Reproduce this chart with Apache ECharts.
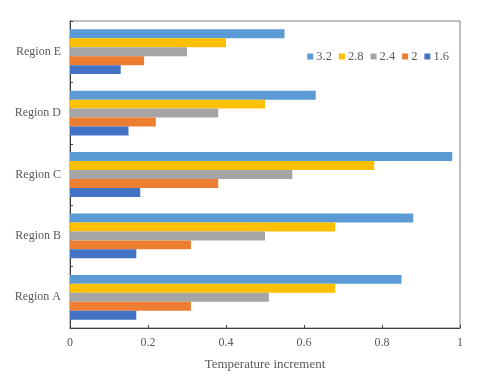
<!DOCTYPE html>
<html>
<head>
<meta charset="utf-8">
<script src="https://cdn.jsdelivr.net/npm/echarts@6/dist/echarts.min.js"></script>
<style>html,body{margin:0;padding:0;background:#fff}#c{width:480px;height:376px}</style>
</head>
<body>
<div id="c"></div>
<script>
var categories = ['Region A', 'Region B', 'Region C', 'Region D', 'Region E'];
var xTicks = [0, 0.2, 0.4, 0.6, 0.8, 1];
var s32 = [0.85, 0.88, 0.98, 0.63, 0.55];
var s28 = [0.68, 0.68, 0.78, 0.50, 0.40];
var s24 = [0.51, 0.50, 0.57, 0.38, 0.30];
var s2 = [0.31, 0.31, 0.38, 0.22, 0.19];
var s16 = [0.17, 0.17, 0.18, 0.15, 0.13];
var seriesNames = ['3.2', '2.8', '2.4', '2', '1.6'];
var seriesData = [s32, s28, s24, s2, s16];
var colors = ['#5B9BD5', '#FFC000', '#A5A5A5', '#ED7D31', '#4472C4'];

var font = 'Liberation Serif';
var chart = echarts.init(document.getElementById('c'));
var series = seriesNames.map(function (n, i) {
  return {
    name: n, type: 'bar', data: seriesData[i],
    barGap: '0%', barCategoryGap: '27%',
    itemStyle: { color: colors[i] }
  };
});
chart.setOption({
  animation: false,
  textStyle: { fontFamily: font },
  grid: { left: 70, right: 20, top: 21, bottom: 47, show: true, borderColor: '#7f7f7f', borderWidth: 1 },
  legend: {
    data: seriesNames,
    right: 26, top: 45,
    icon: 'rect', itemWidth: 6, itemHeight: 6, itemGap: 7,
    textStyle: { fontFamily: font, fontSize: 12.5, color: '#595959', padding: [0, 0, 0, -2] }
  },
  xAxis: {
    type: 'value', min: 0, max: 1, interval: 0.2,
    name: 'Temperature increment', nameLocation: 'middle', nameGap: 30,
    nameTextStyle: { fontFamily: font, fontSize: 13, color: '#595959' },
    axisLine: { show: true, lineStyle: { color: '#404040' } },
    axisTick: { show: true, inside: true, length: 3, lineStyle: { color: '#404040' } },
    axisLabel: { fontFamily: font, fontSize: 12, color: '#595959', margin: 9,
      formatter: function (v) { return String(v); } },
    splitLine: { show: false }
  },
  yAxis: {
    type: 'category', data: categories,
    axisLine: { show: true, lineStyle: { color: '#404040' } },
    axisTick: { show: true, inside: true, length: 3, lineStyle: { color: '#404040' } },
    axisLabel: { fontFamily: font, fontSize: 12, color: '#595959', margin: 9 }
  },
  series: series
});
</script>
</body>
</html>
